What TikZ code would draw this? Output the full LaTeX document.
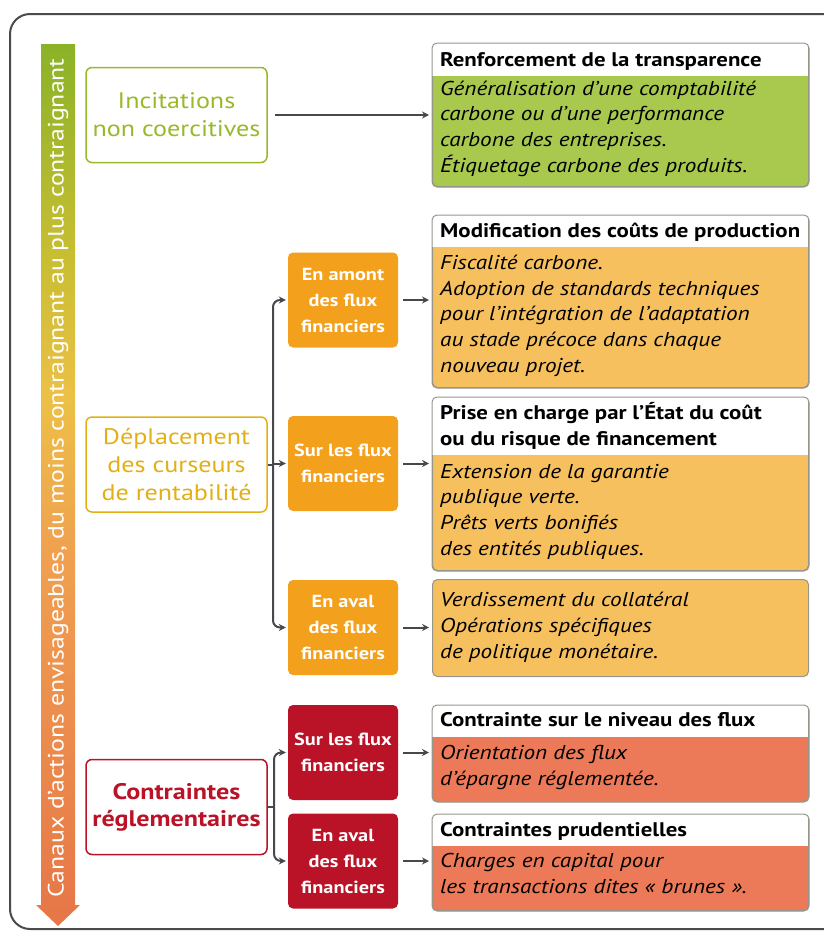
\documentclass[tikz,border=0pt]{standalone}
\usepackage{fontspec}
\setmainfont{PT Sans}[FakeStretch=1.16]
\usetikzlibrary{arrows.meta}

\definecolor{framegray}{RGB}{75,75,78}
\definecolor{linkgray}{RGB}{70,72,78}
\definecolor{infogray}{RGB}{150,150,140}
\definecolor{incitgreen}{RGB}{152,185,40}
\definecolor{greenfill}{RGB}{168,200,78}
\definecolor{deplgold}{RGB}{226,176,20}
\definecolor{amontorange}{RGB}{243,160,28}
\definecolor{orangefill}{RGB}{247,192,95}
\definecolor{contrred}{RGB}{186,18,38}
\definecolor{redfill}{RGB}{236,122,88}
\definecolor{arrowgreen}{RGB}{138,178,40}
\definecolor{arrowlime}{RGB}{200,190,50}
\definecolor{arrowyellow}{RGB}{236,192,70}
\definecolor{arroworange}{RGB}{240,160,80}
\definecolor{arrowred}{RGB}{230,118,72}

\pgfdeclareverticalshading{canalshade}{100bp}{color(0bp)=(arrowred); color(25bp)=(arrowred);
  color(46bp)=(arroworange); color(55bp)=(arrowyellow); color(63bp)=(arrowlime);
  color(75bp)=(arrowgreen); color(100bp)=(arrowgreen)}

\newcommand{\headfont}{\fontsize{19.7}{26}\selectfont\bfseries}
\newcommand{\bodyfont}{\fontsize{20}{25.6}\selectfont\itshape}

\tikzset{
  frame/.style={draw=framegray, line width=2pt, rounded corners=20pt},
  catbox/.style={draw=#1, text=#1, line width=1.5pt, fill=white, rounded corners=6pt,
    minimum width=181pt, minimum height=95pt, align=center, inner sep=0pt,
    font=\fontsize{22.5}{28}\selectfont},
  flowbox/.style={fill=#1, text=white, rounded corners=5pt, minimum width=110pt,
    minimum height=95pt, align=center, inner sep=0pt,
    font=\fontsize{17.5}{26}\selectfont\bfseries},
  infobox/.style={draw=infogray, line width=1pt, fill=#1, rounded corners=5pt,
    anchor=north west, minimum width=376pt, inner sep=0pt},
  headtext/.style={anchor=base west, align=left, inner sep=0pt, font=\headfont},
  bodytext/.style={anchor=base west, align=left, inner sep=0pt, font=\bodyfont},
  link/.style={draw=linkgray, line width=2pt, -{Stealth[length=7pt,width=7pt]}},
  linkline/.style={draw=linkgray, line width=2pt}
}

\begin{document}
\begin{tikzpicture}[x=1pt,y=-1pt]
  \useasboundingbox (0,0) rectangle (823,932);
  \draw[frame] (10,14) rectangle (850,929);

  % vertical arrow
  \shade[shading=canalshade] (41,44) -- (75,44) -- (75,905) -- (80,905) -- (58,926)
    -- (36,905) -- (41,905) -- cycle;
  \node[rotate=90, text=white, font=\fontsize{22.2}{22}\selectfont] (canaux) at (58,478)
    {Canaux d’actions envisageables, du moins contraignant au plus contraignant};

  % categories
  \node[catbox=incitgreen] (incit) at (176.5,115) {Incitations\\non coercitives};
  \node[catbox=deplgold] (deplac) at (176.5,464.5) {Déplacement\\des curseurs\\de rentabilité};
  \node[catbox=contrred, font=\fontsize{22.5}{27}\selectfont\bfseries] (contr) at (176.5,807)
    {Contraintes\\réglementaires};

  % flows
  \node[flowbox=amontorange] (amont) at (343,300) {En amont\\des flux\\financiers};
  \node[flowbox=amontorange] (surflux) at (343,463.5) {Sur les flux\\financiers};
  \node[flowbox=amontorange] (aval) at (343,627.5) {En aval\\des flux\\financiers};
  \node[flowbox=contrred] (regflux) at (343,752.5) {Sur les flux\\financiers};
  \node[flowbox=contrred] (regaval) at (343,861) {En aval\\des flux\\financiers};

  % measures (text nodes placed by the baseline of their last line)
  \node[infobox=greenfill, minimum height=143pt] (transp) at (432,43) {};
  \begin{scope}
    \clip[rounded corners=5pt] (transp.north west) rectangle (transp.south east);
    \fill[white] (transp.north west) rectangle (808,76);
  \end{scope}
  \draw[infogray, line width=1pt, rounded corners=5pt] (transp.north west) rectangle (transp.south east);
  \node[headtext] (transphead) at (440,66) {Renforcement de la transparence};
  \node[bodytext] (transpbody) at (440,172) {Généralisation d’une comptabilité\\carbone ou d’une performance\\carbone des entreprises.\\Étiquetage carbone des produits.};

  \node[infobox=orangefill, minimum height=172pt] (couts) at (432,215) {};
  \begin{scope}
    \clip[rounded corners=5pt] (couts.north west) rectangle (couts.south east);
    \fill[white] (couts.north west) rectangle (808,247);
  \end{scope}
  \draw[infogray, line width=1pt, rounded corners=5pt] (couts.north west) rectangle (couts.south east);
  \node[headtext] (coutshead) at (440,237) {Modification des coûts de production};
  \node[bodytext] (coutsbody) at (440,372) {Fiscalité carbone.\\Adoption de standards techniques\\pour l’intégration de l’adaptation\\au stade précoce dans chaque\\nouveau projet.};

  \node[infobox=orangefill, minimum height=173pt] (etat) at (432,397) {};
  \begin{scope}
    \clip[rounded corners=5pt] (etat.north west) rectangle (etat.south east);
    \fill[white] (etat.north west) rectangle (808,455);
  \end{scope}
  \draw[infogray, line width=1pt, rounded corners=5pt] (etat.north west) rectangle (etat.south east);
  \node[headtext] (etathead) at (440,445) {Prise en charge par l’État du coût\\ou du risque de financement};
  \node[bodytext] (etatbody) at (440,555) {Extension de la garantie\\publique verte.\\Prêts verts bonifiés\\des entités publiques.};

  \node[infobox=orangefill, minimum height=97pt] (politique) at (432,579) {};
  \node[bodytext] (politiquebody) at (440,658) {Verdissement du collatéral\\Opérations spécifiques\\de politique monétaire.};

  \node[infobox=redfill, minimum height=96pt] (niveau) at (432,705) {};
  \begin{scope}
    \clip[rounded corners=5pt] (niveau.north west) rectangle (niveau.south east);
    \fill[white] (niveau.north west) rectangle (808,737);
  \end{scope}
  \draw[infogray, line width=1pt, rounded corners=5pt] (niveau.north west) rectangle (niveau.south east);
  \node[headtext] (niveauhead) at (440,726) {Contrainte sur le niveau des flux};
  \node[bodytext] (niveaubody) at (440,785) {Orientation des flux\\d’épargne réglementée.};

  \node[infobox=redfill, minimum height=96pt] (prudent) at (432,814) {};
  \begin{scope}
    \clip[rounded corners=5pt] (prudent.north west) rectangle (prudent.south east);
    \fill[white] (prudent.north west) rectangle (808,846);
  \end{scope}
  \draw[infogray, line width=1pt, rounded corners=5pt] (prudent.north west) rectangle (prudent.south east);
  \node[headtext] (prudenthead) at (440,836) {Contraintes prudentielles};
  \node[bodytext] (prudentbody) at (440,893) {Charges en capital pour\\les transactions dites « brunes ».};

  % links
  \draw[link, shorten <=7pt, shorten >=3pt] (incit.east) -- (incit.east -| transp.west);

  \coordinate (forkdep) at (273,464.5);
  \draw[linkline] (deplac.east) -- (forkdep);
  \draw[link, rounded corners=7pt, shorten >=2pt] (forkdep) |- (amont.west);
  \draw[link, shorten >=2pt] (forkdep) -- (forkdep |- surflux.west) -- (surflux.west);
  \draw[link, rounded corners=7pt, shorten >=2pt] (forkdep) |- (aval.west);

  \coordinate (forkreg) at (274,807);
  \draw[linkline] (contr.east) -- (forkreg);
  \draw[link, rounded corners=7pt, shorten >=2pt] (forkreg) |- (regflux.west);
  \draw[link, rounded corners=7pt, shorten >=2pt] (forkreg) |- (regaval.west);

  \draw[link, shorten <=5pt, shorten >=3pt] (amont.east) -- (amont.east -| couts.west);
  \draw[link, shorten <=5pt, shorten >=3pt] (surflux.east) -- (surflux.east -| etat.west);
  \draw[link, shorten <=5pt, shorten >=3pt] (aval.east) -- (aval.east -| politique.west);
  \draw[link, shorten <=5pt, shorten >=3pt] (regflux.east) -- (regflux.east -| niveau.west);
  \draw[link, shorten <=5pt, shorten >=3pt] (regaval.east) -- (regaval.east -| prudent.west);
\end{tikzpicture}
\end{document}
